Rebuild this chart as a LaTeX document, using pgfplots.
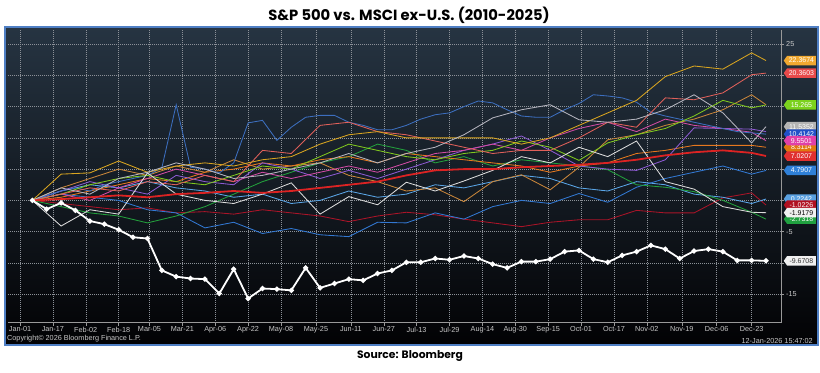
\documentclass[border=0pt]{standalone}
\usepackage{fontspec}
\setmainfont{Liberation Sans}
\newfontfamily\titlefont{Poppins}
\usepackage{pgfplots}
\pgfplotsset{compat=1.18}
\usepackage{pgfplotstable}
\usetikzlibrary{shapes.symbols}

\definecolor{panelTop}{RGB}{38,52,66}
\definecolor{panelMid}{RGB}{14,19,25}
\definecolor{panelBot}{RGB}{2,2,4}
\definecolor{panelBorder}{RGB}{79,127,196}
\definecolor{gridc}{RGB}{140,145,152}
\definecolor{tickc}{RGB}{200,200,200}
\definecolor{cGold}{RGB}{217,165,32}
\definecolor{cSalmon}{RGB}{224,96,90}
\definecolor{cLime}{RGB}{128,200,30}
\definecolor{cTan}{RGB}{200,133,58}
\definecolor{cGray}{RGB}{180,180,190}
\definecolor{cSteel}{RGB}{60,110,190}
\definecolor{cPurple}{RGB}{140,90,210}
\definecolor{cMagenta}{RGB}{210,75,165}
\definecolor{cOrange}{RGB}{230,120,30}
\definecolor{cRed}{RGB}{220,35,35}
\definecolor{cBlue}{RGB}{50,120,210}
\definecolor{cLBlue}{RGB}{90,165,230}
\definecolor{cDRed}{RGB}{170,20,40}
\definecolor{cWG}{RGB}{220,220,220}
\definecolor{cGreen}{RGB}{35,160,60}
\definecolor{tGold}{RGB}{240,168,48}
\definecolor{tSalmon}{RGB}{232,74,74}
\definecolor{tLime}{RGB}{124,210,30}
\definecolor{tGray}{RGB}{180,180,180}
\definecolor{tBlue}{RGB}{32,80,200}
\definecolor{tMagenta}{RGB}{224,64,168}
\definecolor{tOrange}{RGB}{224,120,16}
\definecolor{tRed}{RGB}{224,48,48}
\definecolor{tBlue2}{RGB}{47,128,216}
\definecolor{tLBlue}{RGB}{90,160,224}
\definecolor{tDRed}{RGB}{176,16,32}
\definecolor{tGreen}{RGB}{32,160,64}
\definecolor{tWhite}{RGB}{240,240,240}

% biweekly values of 14 yearly series (day of year, cumulative relative %)
\pgfplotstableread{
d g sa li ta gy pu ma or rd bl lb dr wg gr
6 0 0 0 0 0 0 0 0 0 0 0 0 0 0
20 4.2 1.0 1.0 2.0 2.0 1.5 1.0 0.5 0.2 1.0 1.5 -0.5 -4.1 -1.0
34 4.4 2.0 2.5 3.5 1.0 3.0 0.0 1.5 0.5 0.5 2.5 -1.0 -1.5 -2.0
48 6.3 1.5 3.5 5.0 3.5 2.0 2.0 2.5 0.8 0.0 2.0 -1.5 -2.2 -2.5
62 4.5 3.0 4.0 4.0 4.5 1.0 3.5 3.5 0.5 -1.5 3.0 -1.2 4.4 -3.6
76 5.5 2.5 3.0 5.5 6.0 4.0 5.0 3.0 1.0 -2.0 2.0 -2.0 1.0 -2.5
90 6.0 4.0 2.5 4.5 5.0 3.0 4.0 4.5 1.2 -4.4 1.5 -1.8 0.0 -1.0
104 5.5 3.0 4.0 6.5 3.5 2.5 3.0 5.0 1.5 -3.5 0.5 -2.2 -0.5 1.0
118 6.5 8.0 5.5 5.0 4.0 6.0 4.5 6.0 1.2 -5.3 1.0 -1.5 1.0 3.0
132 7.0 7.5 5.0 5.5 5.0 5.0 3.5 5.5 1.5 -4.5 -0.5 -2.0 2.8 4.5
146 9.0 12.0 7.0 6.0 6.0 3.5 4.5 6.5 2.0 -5.5 0.0 -2.5 -2.2 6.0
160 10.5 12.5 9.0 4.0 7.5 4.8 5.5 7.0 2.5 -5.8 1.5 -3.4 0.6 7.0
174 11.0 11.0 8.0 3.0 6.0 3.5 4.5 6.0 3.0 -3.5 0.5 -2.5 -0.7 9.0
188 10.0 10.5 7.0 1.5 7.5 5.0 6.0 7.5 4.0 -3.6 1.0 -1.9 2.9 8.0
202 10.0 9.5 6.5 2.0 8.5 6.5 7.5 7.0 4.8 -2.0 2.5 -2.3 1.5 6.0
216 10.0 8.5 7.5 -0.2 10.5 8.0 8.0 6.5 5.0 -3.0 2.0 -3.0 3.1 7.0
230 10.0 7.5 8.0 3.0 13.2 9.0 9.0 6.0 5.0 -1.0 3.0 -3.6 4.8 5.5
244 9.0 8.0 9.5 4.1 14.5 10.3 8.0 5.5 5.3 0.0 4.0 -4.2 7.0 6.5
258 10.0 8.0 8.5 1.7 15.3 8.0 10.0 4.5 5.5 -0.5 3.5 -3.5 6.0 6.0
272 12.0 10.0 6.4 5.3 12.9 5.5 11.5 5.5 5.7 1.1 2.0 -3.1 8.5 5.5
286 14.0 12.5 9.2 9.7 12.5 5.0 12.5 6.0 6.0 -0.3 1.5 -3.1 7.0 4.9
300 16.0 11.7 10.5 10.5 13.0 4.8 11.0 7.5 6.5 2.1 3.0 -1.6 9.5 2.5
314 19.8 16.4 11.5 12.0 14.5 6.5 13.0 8.0 7.2 3.5 2.5 -2.0 3.0 2.1
328 21.5 16.1 13.5 13.0 16.9 11.6 12.0 8.8 7.7 4.5 1.0 -2.0 1.8 1.4
342 21.0 17.2 16.0 14.5 14.0 11.5 11.5 8.8 8.0 5.5 0.5 0.4 -1.0 0.0
356 23.6 20.1 14.8 16.9 9.2 11.4 10.9 8.8 7.6 4.2 -0.5 1.2 -1.9 -1.9
363 22.37 20.36 15.27 15.3 11.8 11.0 9.55 8.5 7.1 4.79 0.22 -0.74 -1.97 -3.0
}\multi

% weekly steel blue series
\pgfplotstableread{
d v
6 0
13 0.8
20 1.5
27 2.0
34 1.5
41 2.5
48 3.0
55 3.5
62 4.0
69 5.2
76 15.3
83 5.3
90 5.0
97 4.4
104 6.0
111 12.4
118 12.8
125 9.6
132 11.7
139 13.3
146 13.6
153 13.6
160 12.5
167 12.0
174 11.3
181 11.3
188 12.0
195 13.0
202 13.7
209 14.0
216 15.0
223 15.9
230 15.6
237 14.5
244 13.5
251 13.3
258 13.3
265 14.5
272 15.5
279 16.9
286 16.7
293 16.4
300 15.7
307 14.1
314 13.5
321 13.0
328 12.5
335 12.0
342 11.5
349 11.0
356 10.8
363 10.6
}\steel

% weekly 2025 series (white)
\pgfplotstableread{
d v
6 0
13 -1.4
20 -0.4
27 -1.6
34 -3.3
41 -3.8
48 -4.7
55 -5.9
62 -6.1
69 -11.2
76 -12.2
83 -12.5
90 -12.6
97 -14.9
104 -11.0
111 -15.7
118 -14.1
125 -14.2
132 -14.4
139 -10.8
146 -14.0
153 -13.3
160 -12.6
167 -12.8
174 -11.7
181 -11.2
188 -9.9
195 -9.9
202 -9.3
209 -9.5
216 -8.9
223 -9.3
230 -10.2
237 -10.8
244 -9.8
251 -9.8
258 -9.4
265 -8.2
272 -8.0
279 -9.4
286 -9.9
293 -8.8
300 -8.2
307 -7.2
314 -7.8
321 -9.3
328 -8.1
335 -7.8
342 -8.2
349 -9.6
356 -9.6
363 -9.67
}\whiteS

\begin{document}
\begin{tikzpicture}[x=1bp,y=1bp,
  tag/.style={shape=signal, signal to=west, signal pointer angle=110,
    fill=#1, draw=none, anchor=west, xshift=2.5bp, inner xsep=1.5bp, inner ysep=0.5bp,
    minimum height=9.5bp, minimum width=32bp, text=white,
    font=\fontsize{7}{7}\selectfont}]
\path[fill=white] (0,0) rectangle (820,372);
\shade[top color=panelTop, middle color=panelMid, bottom color=panelBot] (5,27) rectangle (818,345);
\draw[panelBorder, line width=2.5bp] (5,27) rectangle (818,345);
\node[font=\titlefont\bfseries\fontsize{14.8}{17}\selectfont] at (409,357) {S\&P 500 vs. MSCI ex-U.S. (2010-2025)};
\node[font=\titlefont\bfseries\fontsize{10.8}{13}\selectfont] at (410,16) {Source: Bloomberg};
\node[anchor=west, font=\fontsize{7.3}{8}\selectfont, text=tickc, inner sep=0] at (7,33) {Copyright© 2026 Bloomberg Finance L.P.};
\node[anchor=east, font=\fontsize{7.3}{8}\selectfont, text=tickc, inner sep=0] at (813,31) {12-Jan-2026 15:47:02};

\begin{axis}[
  at={(8bp,49.3bp)}, anchor=south west, scale only axis,
  width=773bp, height=292.7bp,
  xmin=-5.84, xmax=370.3, ymin=-19.57, ymax=27.26,
  axis x line*=bottom, axis y line*=right,
  axis line style={draw=gray!80, line width=0.7bp, -},
  xtick={0,16,32,48,63,79,95,111,127,144,161,177,193,209,225,241,257,273,289,305,322,339,356},
  xticklabels={Jan-01,Jan-17,Feb-02,Feb-18,Mar-05,Mar-21,Apr-06,Apr-22,May-08,May-25,Jun-11,Jun-27,Jul-13,Jul-29,Aug-14,Aug-30,Sep-15,Oct-01,Oct-17,Nov-02,Nov-19,Dec-06,Dec-23},
  ytick={-15,-10,...,25},
  yticklabels={-15,,-5,,,,,,25},
  grid=major,
  major grid style={draw=gridc, dash pattern=on 0.8bp off 1.2bp, line width=0.5bp},
  tick style={draw=gray!80, line width=0.5bp},
  major tick length=3bp,
  tick align=outside,
  ticklabel style={font=\fontsize{7.3}{8}\selectfont, text=tickc},
  xticklabel style={inner sep=1bp},
  yticklabel style={inner sep=2bp},
  clip=false,
  every axis plot/.append style={line width=0.85bp, mark=none},
]
\addplot[cDRed] table[x=d,y=dr]{\multi};
\addplot[cLBlue] table[x=d,y=lb]{\multi};
\addplot[cBlue] table[x=d,y=bl]{\multi};
\addplot[cGreen] table[x=d,y=gr]{\multi};
\addplot[cTan] table[x=d,y=ta]{\multi};
\addplot[cOrange] table[x=d,y=or]{\multi};
\addplot[cPurple] table[x=d,y=pu]{\multi};
\addplot[cMagenta] table[x=d,y=ma]{\multi};
\addplot[cSteel] table[x=d,y=v]{\steel};
\addplot[cLime] table[x=d,y=li]{\multi};
\addplot[cSalmon] table[x=d,y=sa]{\multi};
\addplot[cGold] table[x=d,y=g]{\multi};
\addplot[cGray] table[x=d,y=gy]{\multi};
\addplot[cWG] table[x=d,y=wg]{\multi};
\addplot[cRed, line width=1.8bp] table[x=d,y=rd]{\multi};
\addplot[white, line width=1.8bp, mark=*, mark size=1.6bp, mark options={fill=white, draw=white}] table[x=d,y=v]{\whiteS};

\node[tag=tGold] at (axis cs:370.3,22.37) {22.3674};
\node[tag=tSalmon] at (axis cs:370.3,20.36) {20.3603};
\node[tag=tLime] at (axis cs:370.3,15.265) {15.265};
\node[tag=tGray] at (axis cs:370.3,11.8) {11.5352};
\node[tag=tBlue] at (axis cs:370.3,10.6) {10.4142};
\node[tag=tOrange] at (axis cs:370.3,8.5) {8.3114};
\node[tag=tMagenta] at (axis cs:370.3,9.55) {9.5501};
\node[tag=tRed] at (axis cs:370.3,7.1) {7.0207};
\node[tag=tBlue2] at (axis cs:370.3,4.79) {4.7907};
\node[tag=tLBlue] at (axis cs:370.3,0.22) {0.2242};
\node[tag=tDRed] at (axis cs:370.3,-0.74) {-1.0226};
\node[tag=tGreen] at (axis cs:370.3,-3.0) {-2.7318};
\node[tag=tWhite, text=black] at (axis cs:370.3,-1.97) {-1.9179};
\node[tag=tWhite, text=black!80] at (axis cs:370.3,-9.67) {-9.6708};
\end{axis}
\end{tikzpicture}
\end{document}
